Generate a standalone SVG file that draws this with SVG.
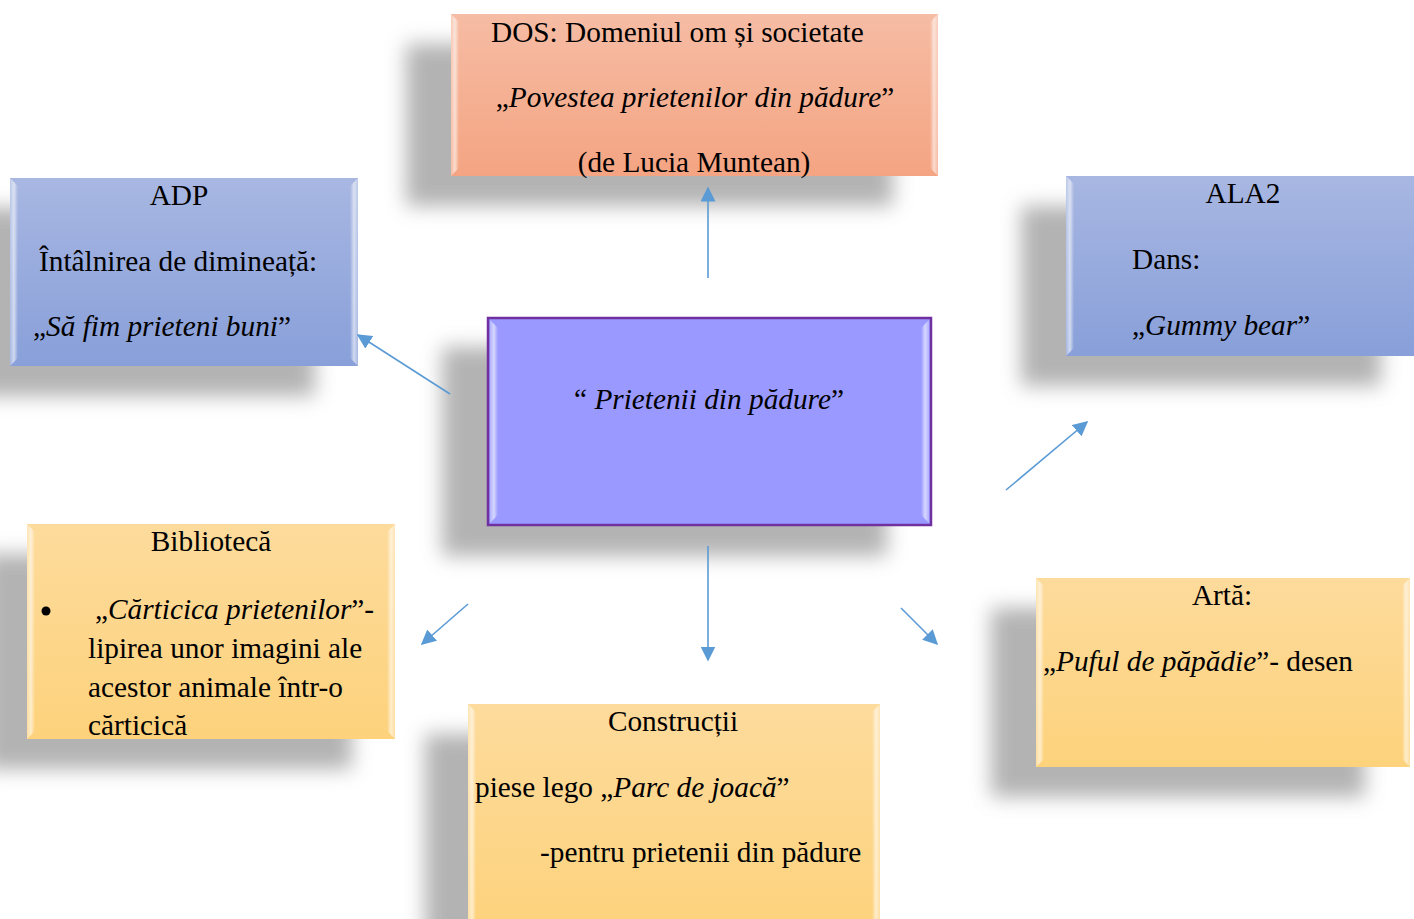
<svg xmlns="http://www.w3.org/2000/svg" width="1414" height="919" viewBox="0 0 1414 919">
<defs>
<style>
.t{font-family:"Liberation Serif","Times New Roman",serif;font-size:29.3px;fill:#000}
.i{font-style:italic}
.c{text-anchor:middle}
.sh{fill:#9a9a9a;opacity:.75;filter:url(#blur)}
.bev{fill:url(#bevL)}
.bevr{fill:url(#bevR)}
.conn{stroke:#5B9BD5;stroke-width:1.6;fill:none;marker-end:url(#ah)}
</style>
<filter id="blur" x="-20%" y="-20%" width="140%" height="140%"><feGaussianBlur stdDeviation="10"/></filter>
<linearGradient id="gSalmon" x1="0" y1="0" x2="0" y2="1"><stop offset="0" stop-color="#F6BCA4"/><stop offset="1" stop-color="#F4A482"/></linearGradient>
<linearGradient id="gBlue" x1="0" y1="0" x2="0" y2="1"><stop offset="0" stop-color="#A8B7E2"/><stop offset="1" stop-color="#889FD9"/></linearGradient>
<linearGradient id="gYellow" x1="0" y1="0" x2="0" y2="1"><stop offset="0" stop-color="#FDDB9C"/><stop offset="1" stop-color="#FDD27C"/></linearGradient>
<linearGradient id="bevL" x1="0" y1="0" x2="1" y2="0"><stop offset="0" stop-color="#fff" stop-opacity=".25"/><stop offset=".5" stop-color="#fff" stop-opacity=".6"/><stop offset="1" stop-color="#fff" stop-opacity="0"/></linearGradient>
<linearGradient id="bevR" x1="0" y1="0" x2="1" y2="0"><stop offset="0" stop-color="#fff" stop-opacity="0"/><stop offset=".5" stop-color="#fff" stop-opacity=".6"/><stop offset="1" stop-color="#fff" stop-opacity=".25"/></linearGradient>
<marker id="ah" viewBox="0 0 10 10" refX="9" refY="5" markerWidth="15" markerHeight="15" markerUnits="userSpaceOnUse" orient="auto"><path d="M0,0 L10,5 L0,10 z" fill="#5B9BD5"/></marker>
</defs>
<rect width="1414" height="919" fill="#fff"/>

<g id="shadows">
<rect class="sh" x="406" y="44" width="487" height="162"/>
<rect class="sh" x="-33" y="208" width="348" height="188"/>
<rect class="sh" x="442" y="347" width="445" height="209"/>
<rect class="sh" x="1021" y="206" width="360" height="180"/>
<rect class="sh" x="-16" y="554" width="368" height="215"/>
<rect class="sh" x="991" y="608" width="374" height="189"/>
<rect class="sh" x="425" y="734" width="412" height="230"/>
</g>

<g id="node-dos">
<rect x="451" y="14" width="487" height="162" fill="url(#gSalmon)"/>
<polygon class="bev" points="451,14 459,22 459,168 451,176"/>
<polygon class="bevr" points="938,14 930,22 930,168 938,176"/>
<text class="t" x="491" y="42">DOS: Domeniul om și societate</text>
<text class="t c" x="695" y="107">„<tspan class="i">Povestea prietenilor din pădure</tspan>”</text>
<text class="t c" x="694" y="172">(de Lucia Muntean)</text>
</g>

<g id="node-adp">
<rect x="10" y="178" width="348" height="188" fill="url(#gBlue)"/>
<polygon class="bev" points="10,178 18,186 18,358 10,366"/>
<polygon class="bevr" points="358,178 350,186 350,358 358,366"/>
<text class="t c" x="179" y="205">ADP</text>
<text class="t" x="39" y="271">Întâlnirea de dimineață:</text>
<text class="t" x="33" y="336">„<tspan class="i">Să fim prieteni buni</tspan>”</text>
</g>

<g id="node-center">
<rect x="488" y="318" width="443" height="207" fill="#9999FF" stroke="#7030A0" stroke-width="2.5"/>
<polygon class="bev" points="490,320 498,328 498,515 490,523"/>
<polygon class="bevr" points="929,320 921,328 921,515 929,523"/>
<text class="t c" x="709" y="409">“ <tspan class="i">Prietenii din pădure</tspan>”</text>
</g>

<g id="node-ala2">
<rect x="1066" y="176" width="360" height="180" fill="url(#gBlue)"/>
<polygon class="bev" points="1066,176 1074,184 1074,348 1066,356"/>
<text class="t c" x="1243" y="203">ALA2</text>
<text class="t" x="1132" y="269">Dans:</text>
<text class="t" x="1132" y="335">„<tspan class="i">Gummy bear</tspan>”</text>
</g>

<g id="node-biblioteca">
<rect x="27" y="524" width="368" height="215" fill="url(#gYellow)"/>
<polygon class="bev" points="27,524 35,532 35,731 27,739"/>
<polygon class="bevr" points="395,524 387,532 387,731 395,739"/>
<text class="t c" x="211" y="551">Bibliotecă</text>
<circle cx="46" cy="611" r="4.5" fill="#000"/>
<text class="t" x="95" y="619">„<tspan class="i">Cărticica prietenilor</tspan>”-</text>
<text class="t" x="88" y="658">lipirea unor imagini ale</text>
<text class="t" x="88" y="697">acestor animale într-o</text>
<text class="t" x="88" y="735">cărticică</text>
</g>

<g id="node-arta">
<rect x="1036" y="578" width="374" height="189" fill="url(#gYellow)"/>
<polygon class="bev" points="1036,578 1044,586 1044,759 1036,767"/>
<polygon class="bevr" points="1410,578 1402,586 1402,759 1410,767"/>
<text class="t c" x="1222" y="605">Artă:</text>
<text class="t" x="1043" y="671">„<tspan class="i">Puful de păpădie</tspan>”- desen</text>
</g>

<g id="node-constructii">
<rect x="468" y="704" width="412" height="230" fill="url(#gYellow)"/>
<polygon class="bev" points="468,704 476,712 476,926 468,934"/>
<polygon class="bevr" points="880,704 872,712 872,926 880,934"/>
<text class="t c" x="673" y="731">Construcții</text>
<text class="t" x="475" y="797">piese lego „<tspan class="i">Parc de joacă</tspan>”</text>
<text class="t" x="540" y="862">-pentru prietenii din pădure</text>
</g>

<g id="connectors">
<line class="conn" x1="708" y1="278" x2="708" y2="188"/>
<line class="conn" x1="450" y1="394" x2="358" y2="335"/>
<line class="conn" x1="1006" y1="490" x2="1087" y2="422"/>
<line class="conn" x1="468" y1="604" x2="422" y2="644"/>
<line class="conn" x1="708" y1="546" x2="708" y2="660"/>
<line class="conn" x1="901" y1="608" x2="937" y2="644"/>
</g>
</svg>
